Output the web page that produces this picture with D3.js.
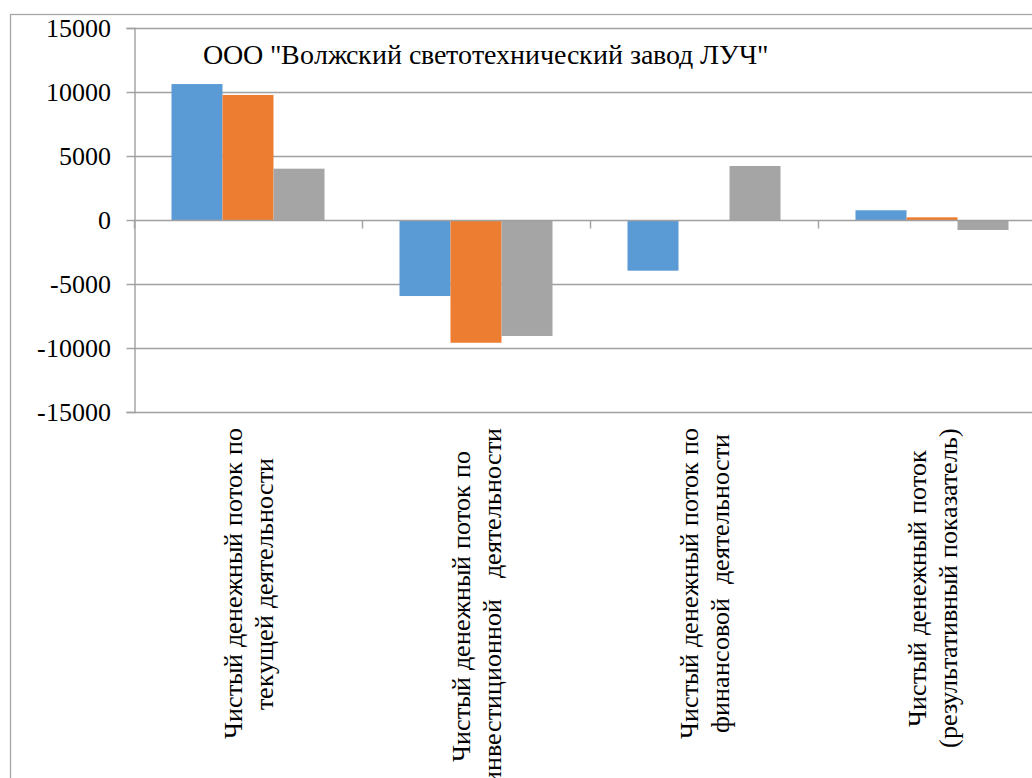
<!DOCTYPE html>
<html><head><meta charset="utf-8">
<script src="https://cdn.jsdelivr.net/npm/d3@7"></script>
<style>
@font-face{font-family:"ChartSerif";src:local("Liberation Serif"),local("LiberationSerif"),local("LiberationSerif-Regular"),local("Times New Roman"),local("TimesNewRomanPSMT");}
body{margin:0;background:#fff;}
svg{display:block;}
svg text{font-family:"ChartSerif","Liberation Serif","Times New Roman",serif;}
</style>
</head><body>
<svg id="c" width="1032" height="778"></svg>
<script>
const categories = [
  ["Чистый денежный поток по", "текущей деятельности"],
  ["Чистый денежный поток по", "инвестиционной   деятельности"],
  ["Чистый денежный поток по", "финансовой  деятельности"],
  ["Чистый денежный поток", "(результативный показатель)"]
];
const seriesNames = ["Ряд 1", "Ряд 2", "Ряд 3"];
const series1 = [10620, -5940, -3960, 760];
const series2 = [9770, -9590, 0, 210];
const series3 = [4010, -9060, 4220, -780];
const seriesColors = ["#5B9BD5", "#ED7D31", "#A5A5A5"];
const yTicks = [-15000, -10000, -5000, 0, 5000, 10000, 15000];
const titleText = 'ООО "Волжский светотехнический завод ЛУЧ"';

const allSeries = [series1, series2, series3];
const svg = d3.select("#c");

function draw() {
  svg.selectAll("*").remove();
  svg.append("rect").attr("x", 10.5).attr("y", 14.5).attr("width", 1100).attr("height", 900)
    .attr("fill", "#fff").attr("stroke", "#a6a6a6").attr("stroke-width", 1.3);

  const y = d3.scaleLinear().domain([-15000, 15000]).range([412, 28]);
  const x = d3.scaleBand().domain(d3.range(categories.length)).range([134, 1046]).padding(0);
  const xs = d3.scaleBand().domain(d3.range(seriesNames.length)).range([0, x.bandwidth()])
    .paddingInner(0).paddingOuter(0.735);

  svg.append("g").selectAll("line").data(yTicks.filter(d => d !== 0)).join("line")
    .attr("x1", 134).attr("x2", 1046)
    .attr("y1", d => Math.round(y(d)) + 0.5).attr("y2", d => Math.round(y(d)) + 0.5)
    .attr("stroke", "#a0a0a0").attr("stroke-width", 1.4);

  const groups = svg.append("g").selectAll("g").data(allSeries).join("g")
    .attr("fill", (d, i) => seriesColors[i]);
  groups.each(function(vals, si) {
    d3.select(this).selectAll("rect").data(vals).join("rect")
      .attr("x", (v, ci) => x(ci) + xs(si))
      .attr("width", xs.bandwidth())
      .attr("y", v => y(Math.max(0, v)))
      .attr("height", v => Math.abs(y(v) - y(0)));
  });

  const yAxis = d3.axisLeft(y).tickValues(yTicks).tickSize(8).tickPadding(16).tickFormat(d => String(d));
  const ya = svg.append("g").attr("transform", "translate(134.5,0)").call(yAxis)
    .attr("font-family", null).attr("font-size", null);
  ya.select(".domain").attr("stroke", "#a0a0a0").attr("stroke-width", 1.4);
  ya.selectAll(".tick line").attr("stroke", "#a0a0a0").attr("stroke-width", 1.4);
  ya.selectAll(".tick text").attr("font-size", 26).attr("fill", "#000").attr("dy", "0.34em");

  const xa = svg.append("g").attr("transform", `translate(0,${Math.round(y(0)) + 0.5})`);
  xa.append("line").attr("x1", 134).attr("x2", 1046).attr("stroke", "#a0a0a0").attr("stroke-width", 1.4);
  xa.selectAll("line.tk").data(d3.range(categories.length)).join("line").attr("class", "tk")
    .attr("x1", i => x(i) + 0.5).attr("x2", i => x(i) + 0.5)
    .attr("y1", 0).attr("y2", 8).attr("stroke", "#a0a0a0").attr("stroke-width", 1.4);

  const labelTop = 428;
  const lineH = 31;
  categories.forEach((lines, ci) => {
    const cx = x(ci) + x.bandwidth() / 2;
    const g = svg.append("g");
    const texts = lines.map(ln => g.append("text").text(ln)
      .attr("font-size", 26).attr("fill", "#000")
      .attr("text-anchor", "middle").style("white-space", "pre"));
    const maxW = d3.max(texts, t => t.node().getComputedTextLength());
    const cy = labelTop + maxW / 2;
    const n = lines.length;
    texts.forEach((t, li) => {
      const off = (li - (n - 1) / 2) * lineH;
      t.attr("transform", `translate(${cx + off + 9},${cy}) rotate(-90)`);
    });
  });

  svg.append("text").attr("x", 203).attr("y", 64).text(titleText)
    .attr("font-size", 28).attr("fill", "#000");
}

draw();
if (document.fonts && document.fonts.load) {
  document.fonts.load('26px "ChartSerif"', 'Чистый 15000 ООО').then(draw, draw);
}
</script>
</body></html>
